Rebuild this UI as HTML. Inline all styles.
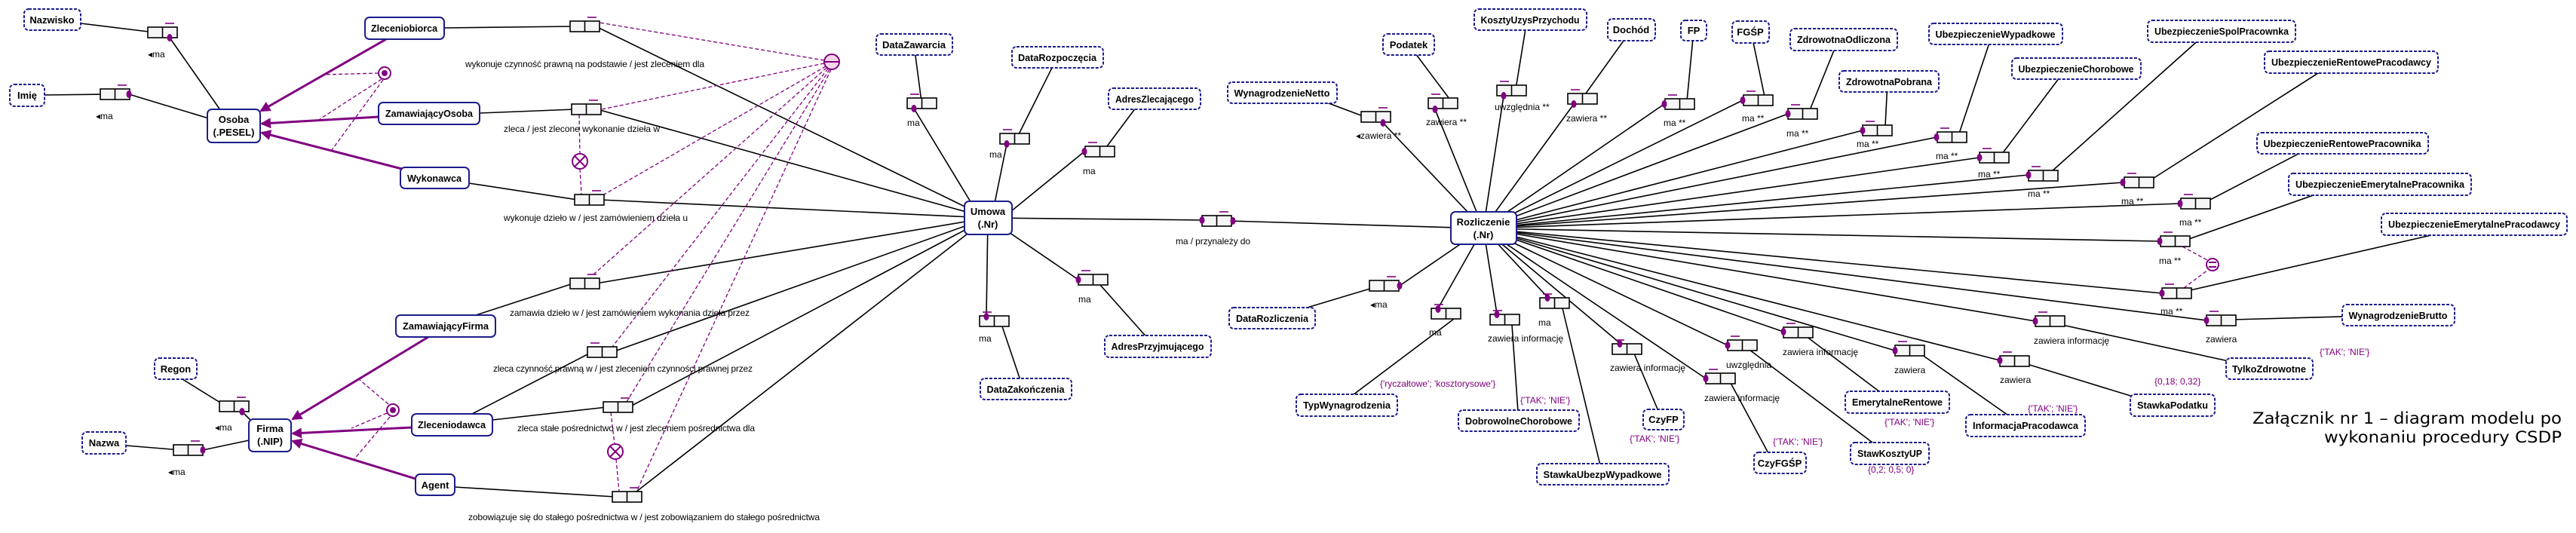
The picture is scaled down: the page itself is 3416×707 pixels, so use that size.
<!DOCTYPE html>
<html><head><meta charset="utf-8"><style>
html,body{margin:0;padding:0;background:#fff}
svg{display:block}
.l{stroke:#000;stroke-width:1.6;fill:none}
.e{fill:#fff;stroke:#1c1c8c;stroke-width:2}
.v{fill:#fff;stroke:#1c1c8c;stroke-width:2;stroke-dasharray:4 2}
.n{font-family:"Liberation Sans",sans-serif;font-weight:bold;font-size:13px;fill:#000;text-anchor:middle}
.r{font-family:"Liberation Sans",sans-serif;font-size:12px;fill:#000}
.c{font-family:"Liberation Sans",sans-serif;font-size:12px;fill:#800080}
.p{stroke:#800080;stroke-width:3;fill:none}
.pd{stroke:#800080;stroke-width:1.3;fill:none;stroke-dasharray:5 3}
.dot{fill:#800080}
</style></head><body>
<svg width="3416" height="707" viewBox="0 0 3416 707" xmlns="http://www.w3.org/2000/svg">
<defs>
<g id="rb"><rect x="0" y="0" width="39" height="14" fill="#f6f6f6" stroke="#000" stroke-width="1.6"/><line x1="19.5" y1="0" x2="19.5" y2="14" stroke="#000" stroke-width="1.6"/><line x1="4" y1="-5" x2="16" y2="-5" stroke="#800080" stroke-width="1.6"/></g>
<g id="rbR"><rect x="0" y="0" width="39" height="14" fill="#f6f6f6" stroke="#000" stroke-width="1.6"/><line x1="19.5" y1="0" x2="19.5" y2="14" stroke="#000" stroke-width="1.6"/><line x1="23" y1="-5" x2="35" y2="-5" stroke="#800080" stroke-width="1.6"/></g>
<marker id="ar" markerWidth="8" markerHeight="8" refX="6" refY="4" orient="auto" markerUnits="userSpaceOnUse"><path d="M0,0 L8,4 L0,8 z" fill="#800080"/></marker>
<marker id="arb" markerWidth="14" markerHeight="14" refX="12" refY="7" orient="auto" markerUnits="userSpaceOnUse"><path d="M0,0 L14,7 L0,14 z" fill="#800080"/></marker>
</defs>

<!-- black connector lines -->
<g class="l">
<line x1="107" y1="31" x2="205" y2="43"/><line x1="225" y1="50" x2="295" y2="150"/>
<line x1="59" y1="126" x2="140" y2="125"/><line x1="171" y1="125" x2="280" y2="158"/>
<line x1="205" y1="480" x2="300" y2="539"/><line x1="321" y1="546" x2="340" y2="565"/>
<line x1="167" y1="591" x2="240" y2="597"/><line x1="269" y1="597" x2="335" y2="583"/>
<line x1="589" y1="37" x2="760" y2="35"/><line x1="790" y1="35" x2="1310" y2="289"/>
<line x1="636" y1="150" x2="762" y2="145"/><line x1="792" y1="145" x2="1310" y2="289"/>
<line x1="622" y1="243" x2="766" y2="265"/><line x1="796" y1="265" x2="1310" y2="289"/>
<line x1="631" y1="418" x2="760" y2="376"/><line x1="790" y1="376" x2="1310" y2="289"/>
<line x1="626" y1="549" x2="785" y2="467"/><line x1="812" y1="467" x2="1310" y2="289"/>
<line x1="653" y1="557" x2="805" y2="540"/><line x1="834" y1="540" x2="1310" y2="289"/>
<line x1="603" y1="646" x2="816" y2="659"/><line x1="844" y1="652" x2="1310" y2="289"/>
<line x1="1212" y1="144" x2="1300" y2="289"/><line x1="1222" y1="135" x2="1212" y2="59"/>
<line x1="1335" y1="191" x2="1315" y2="289"/><line x1="1350" y1="180" x2="1402" y2="76"/>
<line x1="1438" y1="201" x2="1330" y2="289"/><line x1="1465" y1="198" x2="1515" y2="131"/>
<line x1="1430" y1="371" x2="1310" y2="289"/><line x1="1459" y1="378" x2="1523" y2="450"/>
<line x1="1308" y1="419" x2="1310" y2="289"/><line x1="1328" y1="430" x2="1355" y2="510"/>
<line x1="1310" y1="289" x2="1600" y2="292"/><line x1="1630" y1="293" x2="1967" y2="303"/>
<line x1="1834" y1="163" x2="1967" y2="303"/><line x1="1810" y1="155" x2="1730" y2="125"/>
<line x1="1903" y1="145" x2="1967" y2="303"/><line x1="1925" y1="135" x2="1868" y2="59"/>
<line x1="1994" y1="127" x2="1967" y2="303"/><line x1="2010" y1="118" x2="2025" y2="26"/>
<line x1="2087" y1="138" x2="1967" y2="303"/><line x1="2100" y1="128" x2="2163" y2="40"/>
<line x1="2207" y1="138" x2="1967" y2="303"/><line x1="2237" y1="134" x2="2246" y2="40"/>
<line x1="2311" y1="133" x2="1967" y2="303"/><line x1="2340" y1="128" x2="2322" y2="42"/>
<line x1="2371" y1="151" x2="1967" y2="303"/><line x1="2400" y1="146" x2="2438" y2="52"/>
<line x1="2470" y1="173" x2="1967" y2="303"/><line x1="2500" y1="168" x2="2503" y2="108"/>
<line x1="2568" y1="182" x2="1967" y2="303"/><line x1="2598" y1="177" x2="2642" y2="45"/>
<line x1="2625" y1="209" x2="1967" y2="303"/><line x1="2655" y1="204" x2="2740" y2="91"/>
<line x1="2690" y1="232" x2="1967" y2="303"/><line x1="2720" y1="228" x2="2928" y2="42"/>
<line x1="2815" y1="242" x2="1967" y2="303"/><line x1="2850" y1="240" x2="3096" y2="83"/>
<line x1="2891" y1="270" x2="1967" y2="303"/><line x1="2925" y1="268" x2="3075" y2="190"/>
<line x1="2864" y1="320" x2="1967" y2="303"/><line x1="2900" y1="318" x2="3110" y2="244"/>
<line x1="2867" y1="389" x2="1967" y2="303"/><line x1="2900" y1="386" x2="3224" y2="312"/>
<line x1="2926" y1="425" x2="1967" y2="303"/><line x1="2960" y1="424" x2="3180" y2="418"/>
<line x1="2699" y1="426" x2="1967" y2="303"/><line x1="2730" y1="430" x2="2960" y2="480"/>
<line x1="2652" y1="478" x2="1967" y2="303"/><line x1="2685" y1="482" x2="2835" y2="528"/>
<line x1="2513" y1="465" x2="1967" y2="303"/><line x1="2545" y1="468" x2="2666" y2="553"/>
<line x1="2365" y1="440" x2="1967" y2="303"/><line x1="2395" y1="446" x2="2497" y2="523"/>
<line x1="2291" y1="458" x2="1967" y2="303"/><line x1="2320" y1="464" x2="2487" y2="590"/>
<line x1="2262" y1="502" x2="1967" y2="303"/><line x1="2295" y1="508" x2="2346" y2="603"/>
<line x1="2148" y1="455" x2="1967" y2="303"/><line x1="2167" y1="469" x2="2199" y2="545"/>
<line x1="2052" y1="394" x2="1967" y2="303"/><line x1="2072" y1="409" x2="2122" y2="617"/>
<line x1="1985" y1="416" x2="1967" y2="303"/><line x1="2005" y1="431" x2="2013" y2="546"/>
<line x1="1907" y1="409" x2="1967" y2="303"/><line x1="1928" y1="423" x2="1786" y2="530"/>
<line x1="1856" y1="379" x2="1967" y2="303"/><line x1="1820" y1="382" x2="1700" y2="418"/>
</g>

<!-- purple subtype arrows -->
<g class="p">
<line x1="512" y1="52" x2="346" y2="147" marker-end="url(#arb)"/>
<line x1="502" y1="155" x2="347" y2="164" marker-end="url(#arb)"/>
<line x1="533" y1="224" x2="347" y2="176" marker-end="url(#arb)"/>
<line x1="568" y1="447" x2="388" y2="556" marker-end="url(#arb)"/>
<line x1="546" y1="567" x2="388" y2="575" marker-end="url(#arb)"/>
<line x1="551" y1="635" x2="388" y2="585" marker-end="url(#arb)"/>
</g>
<!-- purple dashed constraints -->
<g class="pd">
<line x1="502" y1="97" x2="429" y2="99"/><line x1="506" y1="105" x2="424" y2="158"/><line x1="508" y1="106" x2="440" y2="199"/>
<line x1="515" y1="536" x2="477" y2="504"/><line x1="513" y1="548" x2="466" y2="568"/><line x1="517" y1="553" x2="469" y2="610"/>
<line x1="1093" y1="80" x2="795" y2="30"/><line x1="1093" y1="84" x2="798" y2="145"/><line x1="1095" y1="88" x2="801" y2="258"/>
<line x1="1096" y1="90" x2="786" y2="365"/><line x1="1098" y1="91" x2="812" y2="460"/><line x1="1100" y1="92" x2="831" y2="533"/><line x1="1102" y1="92" x2="844" y2="652"/>
<line x1="768" y1="152" x2="769" y2="204"/><line x1="769" y1="224" x2="771" y2="258"/>
<line x1="810" y1="547" x2="815" y2="589"/><line x1="817" y1="609" x2="821" y2="652"/>
<line x1="2894" y1="327" x2="2927" y2="345"/><line x1="2896" y1="382" x2="2928" y2="358"/>
</g>
<!-- constraint circles -->
<g stroke="#800080" stroke-width="2" fill="#fff">
<circle cx="510" cy="97" r="8"/><circle cx="521" cy="544" r="8"/>
<circle cx="769" cy="214" r="10"/><circle cx="816" cy="599" r="10"/>
<circle cx="1103" cy="82" r="10" fill="#f6d6e6"/><circle cx="2934" cy="351" r="8"/>
</g>
<circle cx="510" cy="97" r="4" class="dot"/><circle cx="521" cy="544" r="4" class="dot"/>
<g stroke="#800080" stroke-width="2">
<line x1="762" y1="207" x2="776" y2="221"/><line x1="776" y1="207" x2="762" y2="221"/>
<line x1="809" y1="592" x2="823" y2="606"/><line x1="823" y1="592" x2="809" y2="606"/>
<line x1="1093" y1="82" x2="1113" y2="82"/>
<line x1="2929" y1="348" x2="2939" y2="348"/><line x1="2929" y1="354" x2="2939" y2="354"/>
</g>

<!-- role boxes -->
<use href="#rbR" x="196" y="36"/><use href="#rbR" x="133" y="118"/>
<use href="#rbR" x="756" y="28"/><use href="#rbR" x="758" y="138"/><use href="#rbR" x="762" y="258"/>
<use href="#rbR" x="756" y="369"/><use href="#rb" x="779" y="460"/><use href="#rbR" x="800" y="533"/><use href="#rbR" x="812" y="652"/>
<use href="#rbR" x="291" y="532"/><use href="#rbR" x="230" y="590"/>
<use href="#rb" x="1203" y="130"/><use href="#rb" x="1326" y="177"/><use href="#rb" x="1439" y="194"/>
<use href="#rbR" x="1594" y="286"/><use href="#rbR" x="1805" y="148"/><use href="#rb" x="1894" y="130"/>
<use href="#rb" x="1985" y="113"/><use href="#rb" x="2079" y="124"/><use href="#rb" x="2208" y="131"/>
<use href="#rb" x="2312" y="126"/><use href="#rb" x="2371" y="144"/><use href="#rb" x="2470" y="166"/>
<use href="#rb" x="2569" y="175"/><use href="#rb" x="2625" y="202"/><use href="#rb" x="2690" y="226"/>
<use href="#rb" x="2817" y="235"/><use href="#rb" x="2892" y="263"/><use href="#rb" x="2865" y="313"/>
<use href="#rb" x="2867" y="382"/><use href="#rb" x="2926" y="418"/><use href="#rb" x="2699" y="419"/>
<use href="#rb" x="2652" y="472"/><use href="#rb" x="2513" y="458"/><use href="#rb" x="2365" y="434"/>
<use href="#rb" x="2291" y="451"/><use href="#rb" x="2262" y="495"/><use href="#rb" x="2138" y="456"/>
<use href="#rb" x="2042" y="395"/><use href="#rb" x="1976" y="417"/><use href="#rb" x="1898" y="409"/>
<use href="#rbR" x="1816" y="372"/><use href="#rb" x="1430" y="364"/><use href="#rb" x="1299" y="419"/>
<!-- dots -->
<g class="dot">
<ellipse cx="225" cy="50" rx="3.5" ry="5"/><ellipse cx="171" cy="125" rx="3.5" ry="5"/>
<ellipse cx="321" cy="546" rx="3.5" ry="5"/><ellipse cx="269" cy="597" rx="3.5" ry="5"/>
<ellipse cx="1212" cy="144" rx="3.5" ry="5"/><ellipse cx="1335" cy="191" rx="3.5" ry="5"/><ellipse cx="1438" cy="201" rx="3.5" ry="5"/>
<ellipse cx="1594" cy="292" rx="3.5" ry="5"/><ellipse cx="1635" cy="293" rx="3.5" ry="5"/>
<ellipse cx="1834" cy="163" rx="3.5" ry="5"/><ellipse cx="1903" cy="145" rx="3.5" ry="5"/><ellipse cx="1994" cy="127" rx="3.5" ry="5"/>
<ellipse cx="2087" cy="138" rx="3.5" ry="5"/><ellipse cx="2207" cy="138" rx="3.5" ry="5"/><ellipse cx="2311" cy="133" rx="3.5" ry="5"/>
<ellipse cx="2371" cy="151" rx="3.5" ry="5"/><ellipse cx="2470" cy="173" rx="3.5" ry="5"/><ellipse cx="2568" cy="182" rx="3.5" ry="5"/>
<ellipse cx="2625" cy="209" rx="3.5" ry="5"/><ellipse cx="2690" cy="232" rx="3.5" ry="5"/><ellipse cx="2815" cy="242" rx="3.5" ry="5"/>
<ellipse cx="2891" cy="270" rx="3.5" ry="5"/><ellipse cx="2864" cy="320" rx="3.5" ry="5"/><ellipse cx="2867" cy="389" rx="3.5" ry="5"/>
<ellipse cx="2926" cy="425" rx="3.5" ry="5"/><ellipse cx="2699" cy="426" rx="3.5" ry="5"/><ellipse cx="2652" cy="478" rx="3.5" ry="5"/>
<ellipse cx="2513" cy="465" rx="3.5" ry="5"/><ellipse cx="2365" cy="440" rx="3.5" ry="5"/><ellipse cx="2291" cy="458" rx="3.5" ry="5"/>
<ellipse cx="2262" cy="502" rx="3.5" ry="5"/><ellipse cx="2148" cy="456" rx="3.5" ry="5"/><ellipse cx="2052" cy="395" rx="3.5" ry="5"/>
<ellipse cx="1985" cy="417" rx="3.5" ry="5"/><ellipse cx="1907" cy="410" rx="3.5" ry="5"/><ellipse cx="1856" cy="379" rx="3.5" ry="5"/>
<ellipse cx="1430" cy="371" rx="3.5" ry="5"/><ellipse cx="1308" cy="420" rx="3.5" ry="5"/>
</g>

<!-- entity boxes -->
<rect class="e" x="275" y="145" width="70" height="44" rx="6"/><text class="n" x="310" y="163">Osoba</text><text class="n" x="310" y="180">(.PESEL)</text>
<rect class="e" x="484" y="23" width="105" height="29" rx="6"/><text class="n" x="536" y="42" textLength="88" lengthAdjust="spacingAndGlyphs">Zleceniobiorca</text>
<rect class="e" x="502" y="136" width="134" height="29" rx="6"/><text class="n" x="569" y="155" textLength="116" lengthAdjust="spacingAndGlyphs">ZamawiającyOsoba</text>
<rect class="e" x="531" y="222" width="91" height="28" rx="6"/><text class="n" x="576" y="241" textLength="72" lengthAdjust="spacingAndGlyphs">Wykonawca</text>
<rect class="e" x="525" y="418" width="132" height="29" rx="6"/><text class="n" x="591" y="437" textLength="114" lengthAdjust="spacingAndGlyphs">ZamawiającyFirma</text>
<rect class="e" x="546" y="549" width="107" height="29" rx="6"/><text class="n" x="599" y="568" textLength="90" lengthAdjust="spacingAndGlyphs">Zleceniodawca</text>
<rect class="e" x="551" y="629" width="52" height="28" rx="6"/><text class="n" x="577" y="648">Agent</text>
<rect class="e" x="330" y="556" width="56" height="43" rx="6"/><text class="n" x="358" y="573">Firma</text><text class="n" x="358" y="590">(.NIP)</text>
<rect class="e" x="1279" y="267" width="63" height="44" rx="6"/><text class="n" x="1310" y="285">Umowa</text><text class="n" x="1310" y="302">(.Nr)</text>
<rect class="e" x="1924" y="281" width="87" height="43" rx="6"/><text class="n" x="1967" y="299">Rozliczenie</text><text class="n" x="1967" y="316">(.Nr)</text>

<!-- value types -->
<g>
<rect class="v" x="32" y="12" width="75" height="28" rx="6"/><text class="n" x="69" y="31">Nazwisko</text>
<rect class="v" x="13" y="112" width="46" height="29" rx="6"/><text class="n" x="36" y="131">Imię</text>
<rect class="v" x="205" y="475" width="56" height="28" rx="6"/><text class="n" x="233" y="494">Regon</text>
<rect class="v" x="109" y="573" width="58" height="29" rx="6"/><text class="n" x="138" y="592">Nazwa</text>
<rect class="v" x="1162" y="45" width="101" height="28" rx="6"/><text class="n" x="1212" y="64" textLength="84" lengthAdjust="spacingAndGlyphs">DataZawarcia</text>
<rect class="v" x="1342" y="62" width="121" height="28" rx="6"/><text class="n" x="1402" y="81" textLength="104" lengthAdjust="spacingAndGlyphs">DataRozpoczęcia</text>
<rect class="v" x="1470" y="117" width="122" height="28" rx="6"/><text class="n" x="1531" y="136" textLength="104" lengthAdjust="spacingAndGlyphs">AdresZlecającego</text>
<rect class="v" x="1628" y="109" width="145" height="28" rx="6"/><text class="n" x="1700" y="128" textLength="127" lengthAdjust="spacingAndGlyphs">WynagrodzenieNetto</text>
<rect class="v" x="1834" y="45" width="68" height="28" rx="6"/><text class="n" x="1868" y="64">Podatek</text>
<rect class="v" x="1955" y="12" width="149" height="28" rx="6"/><text class="n" x="2029" y="31" textLength="131" lengthAdjust="spacingAndGlyphs">KosztyUzysPrzychodu</text>
<rect class="v" x="2132" y="25" width="63" height="29" rx="6"/><text class="n" x="2163" y="44">Dochód</text>
<rect class="v" x="2229" y="27" width="34" height="27" rx="6"/><text class="n" x="2246" y="45">FP</text>
<rect class="v" x="2297" y="28" width="49" height="29" rx="6"/><text class="n" x="2321" y="47">FGŚP</text>
<rect class="v" x="2374" y="38" width="142" height="29" rx="6"/><text class="n" x="2445" y="57" textLength="124" lengthAdjust="spacingAndGlyphs">ZdrowotnaOdliczona</text>
<rect class="v" x="2439" y="94" width="132" height="28" rx="6"/><text class="n" x="2505" y="113" textLength="114" lengthAdjust="spacingAndGlyphs">ZdrowotnaPobrana</text>
<rect class="v" x="2558" y="31" width="177" height="28" rx="6"/><text class="n" x="2646" y="50" textLength="159" lengthAdjust="spacingAndGlyphs">UbezpieczenieWypadkowe</text>
<rect class="v" x="2668" y="77" width="171" height="28" rx="6"/><text class="n" x="2753" y="96" textLength="153" lengthAdjust="spacingAndGlyphs">UbezpieczenieChorobowe</text>
<rect class="v" x="2848" y="27" width="196" height="29" rx="6"/><text class="n" x="2946" y="46" textLength="178" lengthAdjust="spacingAndGlyphs">UbezpieczenieSpolPracownka</text>
<rect class="v" x="3003" y="68" width="230" height="29" rx="6"/><text class="n" x="3118" y="87" textLength="212" lengthAdjust="spacingAndGlyphs">UbezpieczenieRentowePracodawcy</text>
<rect class="v" x="2993" y="176" width="227" height="28" rx="6"/><text class="n" x="3106" y="195" textLength="209" lengthAdjust="spacingAndGlyphs">UbezpieczenieRentowePracownika</text>
<rect class="v" x="3035" y="230" width="242" height="29" rx="6"/><text class="n" x="3156" y="249" textLength="224" lengthAdjust="spacingAndGlyphs">UbezpieczenieEmerytalnePracownika</text>
<rect class="v" x="3158" y="283" width="246" height="29" rx="6"/><text class="n" x="3281" y="302" textLength="228" lengthAdjust="spacingAndGlyphs">UbezpieczenieEmerytalnePracodawcy</text>
<rect class="v" x="3106" y="404" width="149" height="28" rx="6"/><text class="n" x="3180" y="423" textLength="131" lengthAdjust="spacingAndGlyphs">WynagrodzenieBrutto</text>
<rect class="v" x="2952" y="475" width="115" height="28" rx="6"/><text class="n" x="3009" y="494" textLength="98" lengthAdjust="spacingAndGlyphs">TylkoZdrowotne</text>
<rect class="v" x="2825" y="523" width="112" height="29" rx="6"/><text class="n" x="2881" y="542" textLength="94" lengthAdjust="spacingAndGlyphs">StawkaPodatku</text>
<rect class="v" x="2607" y="550" width="158" height="29" rx="6"/><text class="n" x="2686" y="569" textLength="140" lengthAdjust="spacingAndGlyphs">InformacjaPracodawca</text>
<rect class="v" x="2447" y="519" width="138" height="29" rx="6"/><text class="n" x="2516" y="538" textLength="120" lengthAdjust="spacingAndGlyphs">EmerytalneRentowe</text>
<rect class="v" x="2454" y="587" width="104" height="29" rx="6"/><text class="n" x="2506" y="606" textLength="86" lengthAdjust="spacingAndGlyphs">StawKosztyUP</text>
<rect class="v" x="2326" y="600" width="69" height="28" rx="6"/><text class="n" x="2360" y="619">CzyFGŚP</text>
<rect class="v" x="2179" y="543" width="54" height="27" rx="6"/><text class="n" x="2206" y="561">CzyFP</text>
<rect class="v" x="2038" y="615" width="175" height="28" rx="6"/><text class="n" x="2125" y="634" textLength="157" lengthAdjust="spacingAndGlyphs">StawkaUbezpWypadkowe</text>
<rect class="v" x="1934" y="544" width="160" height="28" rx="6"/><text class="n" x="2014" y="563" textLength="142" lengthAdjust="spacingAndGlyphs">DobrowolneChorobowe</text>
<rect class="v" x="1719" y="523" width="134" height="29" rx="6"/><text class="n" x="1786" y="542" textLength="116" lengthAdjust="spacingAndGlyphs">TypWynagrodzenia</text>
<rect class="v" x="1630" y="408" width="114" height="28" rx="6"/><text class="n" x="1687" y="427" textLength="96" lengthAdjust="spacingAndGlyphs">DataRozliczenia</text>
<rect class="v" x="1465" y="445" width="141" height="29" rx="6"/><text class="n" x="1535" y="464" textLength="123" lengthAdjust="spacingAndGlyphs">AdresPrzyjmującego</text>
<rect class="v" x="1300" y="502" width="121" height="28" rx="6"/><text class="n" x="1360" y="521" textLength="103" lengthAdjust="spacingAndGlyphs">DataZakończenia</text>
</g>

<!-- role labels -->
<g class="r">
<text x="196" y="76">◂ma</text><text x="127" y="158">◂ma</text>
<text x="285" y="571">◂ma</text><text x="223" y="630">◂ma</text>
<text x="617" y="89" textLength="317">wykonuje czynność prawną na podstawie / jest zleceniem dla</text>
<text x="668" y="175" textLength="207">zleca / jest zlecone  wykonanie dzieła w</text>
<text x="668" y="293" textLength="244">wykonuje dzieło w / jest zamówieniem dzieła u</text>
<text x="676" y="419" textLength="318">zamawia dzieło w / jest zamówieniem wykonania dzieła przez</text>
<text x="654" y="493" textLength="344">zleca czynność prawną w / jest zleceniem czynności prawnej przez</text>
<text x="686" y="572" textLength="315">zleca stałe pośrednictwo w / jest zleceniem pośrednictwa dla</text>
<text x="621" y="690" textLength="466">zobowiązuje się do stałego pośrednictwa w / jest zobowiązaniem do stałego pośrednictwa</text>
<text x="1203" y="167">ma</text><text x="1312" y="209">ma</text><text x="1436" y="231">ma</text>
<text x="1559" y="324" textLength="99">ma / przynależy do</text>
<text x="1798" y="184">◂zawiera **</text><text x="1891" y="166">zawiera **</text><text x="1982" y="146">uwzględnia **</text>
<text x="2077" y="161">zawiera **</text><text x="2206" y="167">ma **</text><text x="2310" y="161">ma **</text>
<text x="2369" y="181">ma **</text><text x="2462" y="195">ma **</text><text x="2567" y="211">ma **</text>
<text x="2623" y="235">ma **</text><text x="2689" y="261">ma **</text><text x="2813" y="271">ma **</text>
<text x="2890" y="299">ma **</text><text x="2863" y="350">ma **</text><text x="2865" y="417">ma **</text>
<text x="2925" y="454">zawiera</text><text x="2697" y="456">zawiera informację</text><text x="2652" y="508">zawiera</text>
<text x="2512" y="495">zawiera</text><text x="2364" y="471">zawiera informację</text><text x="2289" y="488">uwzględnia</text>
<text x="2260" y="532">zawiera informację</text><text x="2135" y="492">zawiera informację</text><text x="2040" y="432">ma</text>
<text x="1973" y="453">zawiera informację</text><text x="1895" y="445">ma</text><text x="1817" y="408">◂ma</text>
<text x="1430" y="401">ma</text><text x="1298" y="453">ma</text>
</g>
<g class="c">
<text x="1830" y="513">{'ryczałtowe'; 'kosztorysowe'}</text>
<text x="2016" y="535">{'TAK'; 'NIE'}</text><text x="2161" y="586">{'TAK'; 'NIE'}</text>
<text x="2351" y="590">{'TAK'; 'NIE'}</text><text x="2477" y="627">{0,2; 0,5; 0}</text>
<text x="2499" y="564">{'TAK'; 'NIE'}</text><text x="2689" y="546">{'TAK'; 'NIE'}</text>
<text x="2857" y="510">{0,18; 0,32}</text><text x="3076" y="471">{'TAK'; 'NIE'}</text>
</g>
<text x="3397" y="562" text-anchor="end" font-family="DejaVu Sans, sans-serif" font-size="21" textLength="410" lengthAdjust="spacingAndGlyphs">Załącznik nr 1 – diagram modelu po</text>
<text x="3397" y="587" text-anchor="end" font-family="DejaVu Sans, sans-serif" font-size="21" textLength="315" lengthAdjust="spacingAndGlyphs">wykonaniu procedury CSDP</text>
</svg>
</body></html>
